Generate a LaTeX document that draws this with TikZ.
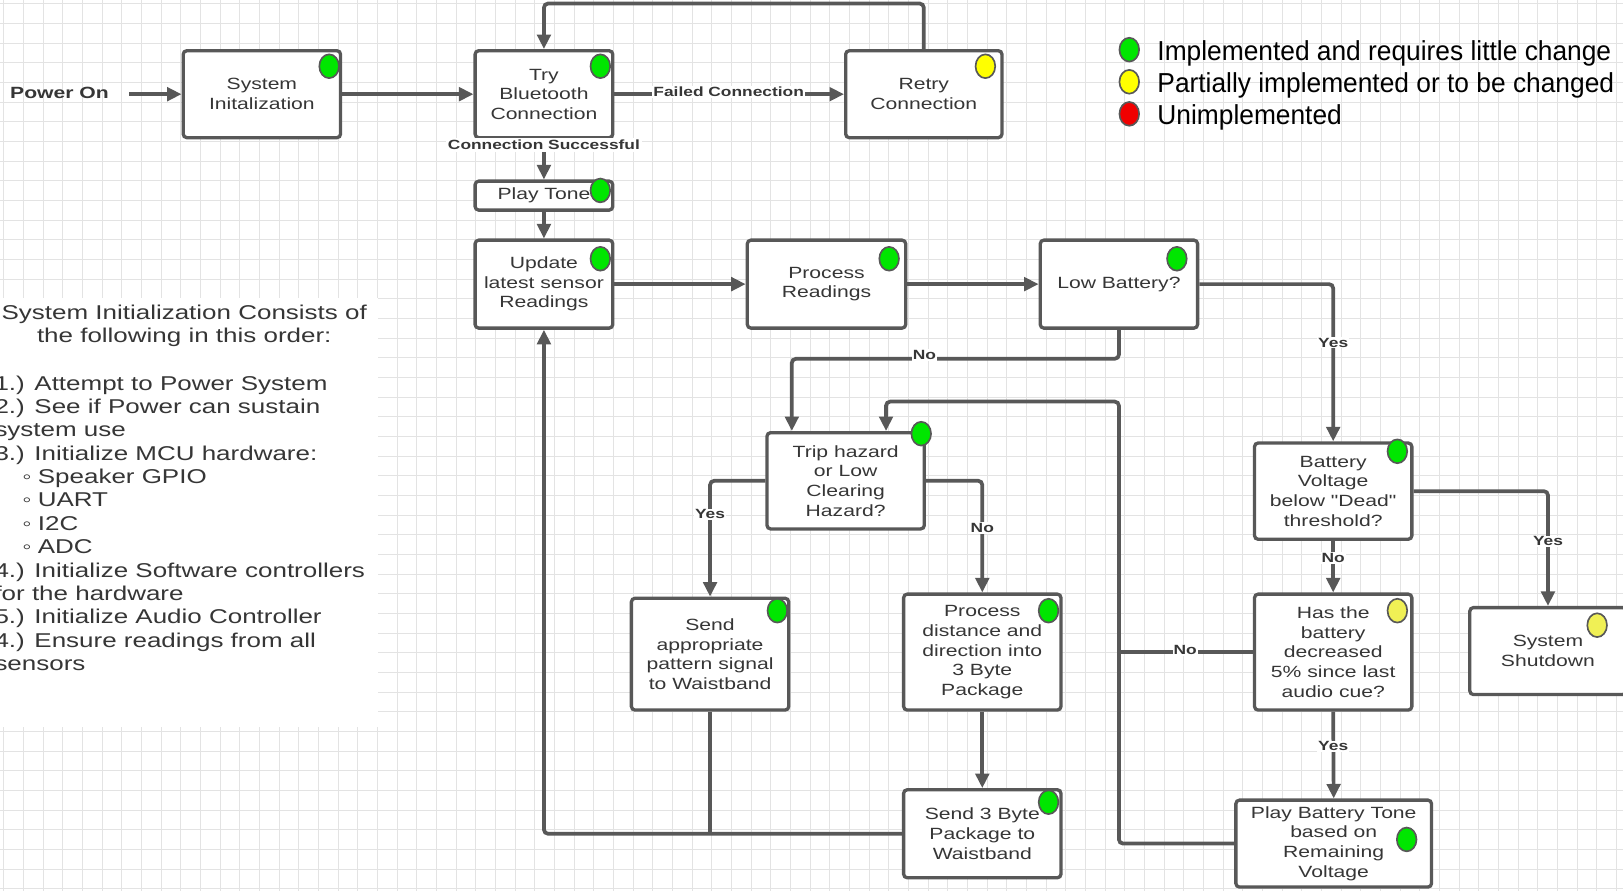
\documentclass[tikz,border=0pt]{standalone}
\usepackage{fontspec}
\usetikzlibrary{arrows.meta,shapes.geometric}
\newfontfamily\mainf[FakeStretch=1.3]{Liberation Sans}
\newfontfamily\legf[FakeStretch=0.96]{Liberation Sans}
\newcommand\myboxfont{\mainf\fontsize{15.7}{19}\selectfont}
\newcommand\mylabfont{\mainf\bfseries\fontsize{12.9}{14}\selectfont}
\newcommand\mynotefont{\mainf\fontsize{19.3}{22.6}\selectfont}
\newcommand\mylegfont{\legf\fontsize{26.5}{31}\selectfont}
\definecolor{linecol}{HTML}{585858}
\definecolor{textcol}{HTML}{363636}
\definecolor{gridcol}{HTML}{E3E3E3}
\definecolor{dgreen}{RGB}{0,230,0}
\definecolor{dyellow}{RGB}{255,255,0}
\definecolor{dlyellow}{RGB}{240,240,85}
\definecolor{dred}{RGB}{240,0,0}
\begin{document}
\begin{tikzpicture}[x=1pt,y=-1pt,
  box/.style={draw=linecol, line width=3.2pt, rounded corners=3.5pt, fill=white, align=center,
    font=\myboxfont, text=textcol, inner sep=0pt},
  conn/.style={draw=linecol, line width=3.6pt, rounded corners=4pt},
  arr/.style={conn, -{Triangle[length=14pt,width=13pt]}},
  lab/.style={font=\mylabfont, text=textcol, fill=white, inner sep=1pt},
  dot/.style={ellipse, draw=linecol, line width=1.6pt, minimum width=19pt, minimum height=23pt, inner sep=0pt},
  note/.style={font=\mynotefont, text=textcol, inner sep=0pt},
  leg/.style={font=\mylegfont, text=black, inner sep=0pt, anchor=base west}]
\useasboundingbox (0,0) rectangle (1568,861);
\clip (0,0) rectangle (1568,861);
\fill[white] (0,0) rectangle (1568,861);
\foreach \gx in {3.5,22.5,...,1568} \draw[gridcol, line width=0.8pt] (\gx,0) -- (\gx,861);
\foreach \gy in {3.5,22.5,...,861} \draw[gridcol, line width=0.8pt] (0,\gy) -- (1568,\gy);
\fill[white] (0,288) rectangle (365,702);

% nodes
\node[font=\mainf\bfseries\fontsize{15.7}{19}\selectfont, text=textcol, inner sep=0pt] (power) at (57.5,90) {Power On};
\coordinate (pstart) at (125,91);
\node[box, minimum width=152pt, minimum height=84pt] (sysinit) at (253,91) {System\\Initalization};
\node[box, minimum width=133pt, minimum height=84pt] (trybt) at (525.5,91) {Try\\Bluetooth\\Connection};
\node[box, minimum width=151pt, minimum height=84pt] (retry) at (892.5,91) {Retry\\Connection};
\node[box, minimum width=133pt, minimum height=28pt] (tone) at (525.5,189) {Play Tone};
\node[box, minimum width=133pt, minimum height=85pt] (update) at (525.5,274.5) {Update\\latest sensor\\Readings};
\node[box, minimum width=153pt, minimum height=85pt] (process) at (798.5,274.5) {Process\\Readings};
\node[box, minimum width=152pt, minimum height=85pt] (lowbat) at (1081,274.5) {Low Battery?};
\node[box, minimum width=152pt, minimum height=93pt] (trip) at (817,464.5) {Trip hazard\\or Low\\Clearing\\Hazard?};
\node[box, minimum width=152pt, minimum height=108pt] (sendpat) at (686,632) {Send\\appropriate\\pattern signal\\to Waistband};
\node[box, minimum width=152pt, minimum height=112pt] (procdist) at (949,630) {Process\\distance and\\direction into\\3 Byte\\Package};
\node[box, minimum width=152pt, minimum height=85pt] (send3) at (949,805.5) {Send 3 Byte\\Package to\\Waistband};
\node[box, minimum width=152pt, minimum height=93pt] (battv) at (1288,474.5) {Battery\\Voltage\\below "Dead"\\threshold?};
\node[box, minimum width=152pt, minimum height=112pt] (hasbat) at (1288,630) {Has the\\battery\\decreased\\5\% since last\\audio cue?};
\node[box, minimum width=189pt, minimum height=84pt] (playbat) at (1288.5,815) {Play Battery Tone\\based on\\Remaining\\Voltage};
\node[box, minimum width=151pt, minimum height=84pt] (shutdown) at (1495.5,629) {System\\Shutdown};
\coordinate (loopc) at (1081,388);

% connectors
\draw[arr] (pstart) -- (sysinit.west);
\draw[arr] (sysinit.east) -- (trybt.west);
\draw[arr] (trybt.east) -- (retry.west);
\node[lab] (lfail) at (704,89) {Failed Connection};
\draw[arr] (retry.north) -- ++(0,-44) -| (trybt.north);
\draw[arr] (trybt.south) -- (tone.north);
\node[lab, inner sep=2pt] (lsucc) at (525.5,140) {Connection Successful};
\draw[arr] (tone.south) -- (update.north);
\draw[arr] (update.east) -- (process.west);
\draw[arr] (process.east) -- (lowbat.west);
\draw[arr] (lowbat.east) -| (battv.north);
\node[lab] (lyes1) at (1288,331) {Yes};
\draw[arr] (lowbat.south) -- ++(0,28) -| ([xshift=-52pt]trip.north);
\node[lab] (lno1) at (893,343) {No};
\draw[arr] (trip.west) -| (sendpat.north);
\node[lab] (lyes2) at (686,497) {Yes};
\draw[arr] (trip.east) -| (procdist.north);
\node[lab] (lno2) at (949,510) {No};
\draw[arr] (procdist.south) -- (send3.north);
\draw[conn] (sendpat.south) -- (sendpat.south |- send3.west);
\draw[arr] (send3.west) -| (update.south);
\draw[arr] (battv.east) -| (shutdown.north);
\node[lab] (lyes3) at (1495.5,523) {Yes};
\draw[arr] (battv.south) -- (hasbat.north);
\node[lab] (lno3) at (1288,539) {No};
\draw[conn] (hasbat.west) -- (hasbat.west -| loopc);
\node[lab] (lno4) at (1145,628) {No};
\draw[arr] (hasbat.south) -- (playbat.north);
\node[lab] (lyes4) at (1288,721) {Yes};
\draw[arr] (playbat.west) -| (loopc) -| ([xshift=39pt]trip.north);

% status dots
\node[dot, fill=dgreen] (d1) at (318,64) {};
\node[dot, fill=dgreen] (d2) at (580,64) {};
\node[dot, fill=dyellow] (d3) at (952,64) {};
\node[dot, fill=dgreen] (d4) at (580,184) {};
\node[dot, fill=dgreen] (d5) at (580,250) {};
\node[dot, fill=dgreen] (d6) at (859,250) {};
\node[dot, fill=dgreen] (d7) at (1137,250) {};
\node[dot, fill=dgreen] (d8) at (890,419) {};
\node[dot, fill=dgreen] (d9) at (751,590) {};
\node[dot, fill=dgreen] (d10) at (1013,590) {};
\node[dot, fill=dgreen] (d11) at (1013,775) {};
\node[dot, fill=dgreen] (d12) at (1350,436) {};
\node[dot, fill=dlyellow] (d13) at (1350,590) {};
\node[dot, fill=dgreen] (d14) at (1359,811) {};
\node[dot, fill=dlyellow] (d15) at (1543,604) {};

% legend
\node[dot, fill=dgreen] (lg1) at (1091,48) {};
\node[dot, fill=dyellow] (lg2) at (1091,79) {};
\node[dot, fill=dred] (lg3) at (1091,110) {};
\node[leg] (lt1) at (1118,58) {Implemented and requires little change};
\node[leg] (lt2) at (1118,89) {Partially implemented or to be changed};
\node[leg] (lt3) at (1118,120) {Unimplemented};

% notes
\node[note, anchor=base] (n1) at (178,309) {System Initialization Consists of};
\node[note, anchor=base] (n2) at (178,331) {the following in this order:};
\node[note, anchor=base west] (n3) at (-5.5,376.8) {1.) Attempt to Power System};
\node[note, anchor=base west] (n4) at (-5.5,399.4) {2.) See if Power can sustain};
\node[note, anchor=base west] (n5) at (-5.5,422) {system use};
\node[note, anchor=base west] (n6) at (-5.5,444.6) {3.) Initialize MCU hardware:};
\node[note, anchor=base] (b1) at (26,467.2) {◦};
\node[note, anchor=base west] (n7) at (36.4,467.2) {Speaker GPIO};
\node[note, anchor=base] (b2) at (26,489.8) {◦};
\node[note, anchor=base west] (n8) at (36.4,489.8) {UART};
\node[note, anchor=base] (b3) at (26,512.4) {◦};
\node[note, anchor=base west] (n9) at (36.4,512.4) {I2C};
\node[note, anchor=base] (b4) at (26,535) {◦};
\node[note, anchor=base west] (n10) at (36.4,535) {ADC};
\node[note, anchor=base west] (n11) at (-5.5,557.6) {4.) Initialize Software controllers};
\node[note, anchor=base west] (n12) at (-5.5,580.2) {for the hardware};
\node[note, anchor=base west] (n13) at (-5.5,602.8) {5.) Initialize Audio Controller};
\node[note, anchor=base west] (n14) at (-5.5,625.4) {4.) Ensure readings from all};
\node[note, anchor=base west] (n15) at (-5.5,648) {sensors};
\end{tikzpicture}
\end{document}
